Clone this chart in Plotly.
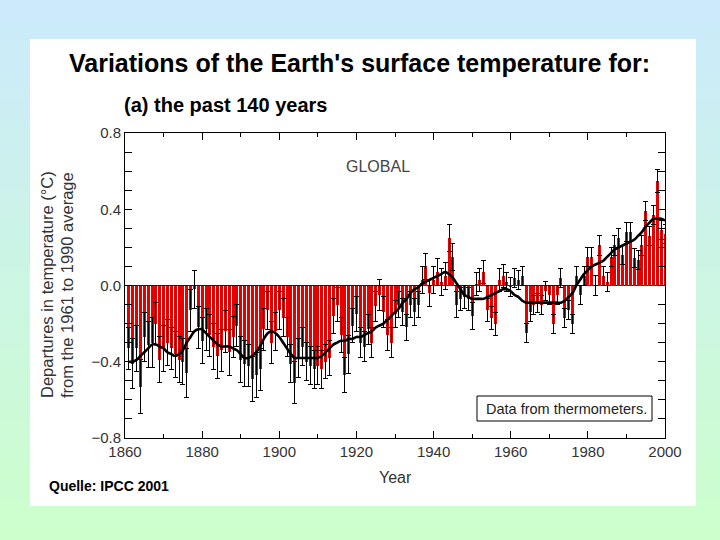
import plotly.graph_objects as go

years = list(range(1861, 2001))

anomaly = [
    -0.33, -0.41, -0.33, -0.53, -0.27, -0.31, -0.30, -0.20, -0.39, -0.33,  # 1861-1870
    -0.30, -0.33, -0.36, -0.39, -0.40, -0.46, -0.13, -0.02, -0.22, -0.29,  # 1871-1880
    -0.23, -0.26, -0.32, -0.37, -0.34, -0.24, -0.35, -0.27, -0.21, -0.39,  # 1881-1890
    -0.41, -0.42, -0.49, -0.47, -0.44, -0.23, -0.13, -0.30, -0.24, -0.13,  # 1891-1900
    -0.17, -0.27, -0.41, -0.51, -0.38, -0.32, -0.40, -0.42, -0.44, -0.42,  # 1901-1910
    -0.44, -0.40, -0.38, -0.16, -0.10, -0.26, -0.47, -0.36, -0.21, -0.15,  # 1911-1920
    -0.30, -0.32, -0.23, -0.30, -0.11, -0.05, -0.14, -0.26, -0.30, -0.15,  # 1921-1930
    -0.10, -0.14, -0.22, -0.10, -0.14, -0.10, 0.03, 0.10, -0.04, 0.03,     # 1931-1940
    0.07, 0.02, 0.05, 0.25, 0.15, -0.10, -0.07, -0.06, -0.07, -0.16,       # 1941-1950
    0.01, 0.03, 0.07, -0.13, -0.17, -0.20, 0.03, 0.05, 0.02, -0.01,        # 1951-1960
    0.04, 0.03, 0.05, -0.25, -0.14, -0.10, -0.09, -0.10, -0.03, -0.05,     # 1961-1970
    -0.20, -0.05, 0.04, -0.17, -0.13, -0.20, 0.05, -0.05, 0.05, 0.15,      # 1971-1980
    0.15, 0.00, 0.21, 0.05, 0.02, 0.15, 0.21, 0.25, 0.16, 0.28,            # 1981-1990
    0.28, 0.145, 0.135, 0.21, 0.39, 0.26, 0.37, 0.55, 0.29, 0.27,          # 1991-2000
]

uncertainty = [
    0.11, 0.13, 0.12, 0.14, 0.13, 0.12, 0.13, 0.11, 0.12, 0.12,
    0.12, 0.11, 0.12, 0.12, 0.12, 0.13, 0.11, 0.10, 0.11, 0.12,
    0.11, 0.11, 0.12, 0.12, 0.11, 0.11, 0.12, 0.11, 0.11, 0.12,
    0.12, 0.11, 0.12, 0.12, 0.11, 0.11, 0.10, 0.11, 0.10, 0.10,
    0.10, 0.10, 0.10, 0.11, 0.10, 0.10, 0.10, 0.10, 0.10, 0.10,
    0.10, 0.09, 0.09, 0.09, 0.09, 0.09, 0.09, 0.10, 0.09, 0.09,
    0.08, 0.08, 0.08, 0.08, 0.08, 0.08, 0.08, 0.08, 0.08, 0.07,
    0.07, 0.07, 0.07, 0.07, 0.07, 0.07, 0.07, 0.07, 0.07, 0.07,
    0.07, 0.07, 0.07, 0.07, 0.07, 0.07, 0.06, 0.06, 0.06, 0.07,
    0.06, 0.06, 0.06, 0.06, 0.06, 0.06, 0.06, 0.06, 0.05, 0.05,
    0.05, 0.05, 0.05, 0.05, 0.05, 0.05, 0.05, 0.05, 0.05, 0.05,
    0.05, 0.05, 0.05, 0.05, 0.05, 0.05, 0.05, 0.05, 0.05, 0.05,
    0.05, 0.05, 0.05, 0.05, 0.05, 0.05, 0.05, 0.05, 0.05, 0.05,
    0.05, 0.05, 0.05, 0.05, 0.05, 0.05, 0.05, 0.06, 0.05, 0.05,
]

smoothed = [
    -0.40, -0.40, -0.39, -0.37, -0.35, -0.33, -0.31, -0.31, -0.32, -0.33,
    -0.35, -0.36, -0.37, -0.36, -0.34, -0.30, -0.27, -0.24, -0.23, -0.23,
    -0.25, -0.27, -0.29, -0.31, -0.32, -0.32, -0.32, -0.33, -0.34, -0.36,
    -0.38, -0.38, -0.37, -0.35, -0.32, -0.28, -0.25, -0.24, -0.25, -0.27,
    -0.30, -0.33, -0.36, -0.38, -0.38, -0.38, -0.38, -0.38, -0.38, -0.38,
    -0.37, -0.35, -0.33, -0.31, -0.30, -0.29, -0.29, -0.28, -0.28, -0.27,
    -0.27, -0.26, -0.25, -0.24, -0.22, -0.21, -0.20, -0.18, -0.16, -0.14,
    -0.12, -0.09, -0.07, -0.04, -0.02, -0.01, 0.01, 0.02, 0.03, 0.04,
    0.05, 0.06, 0.07, 0.06, 0.04, 0.01, -0.02, -0.05, -0.06, -0.07,
    -0.07, -0.07, -0.07, -0.06, -0.05, -0.04, -0.03, -0.02, -0.02, -0.03,
    -0.05, -0.06, -0.08, -0.09, -0.09, -0.09, -0.09, -0.09, -0.09, -0.09,
    -0.09, -0.09, -0.09, -0.08, -0.06, -0.04, 0.00, 0.03, 0.06, 0.08,
    0.10, 0.11, 0.12, 0.13, 0.15, 0.17, 0.19, 0.20, 0.21, 0.22,
    0.23, 0.24, 0.26, 0.28, 0.31, 0.33, 0.35, 0.35, 0.35, 0.34,
]

x_ticks = [1860, 1880, 1900, 1920, 1940, 1960, 1980, 2000]
y_ticks = [-0.8, -0.4, 0.0, 0.4, 0.8]
y_labels = ["\u22120.8", "\u22120.4", "0.0", "0.4", "0.8"]

W, H = 720, 540
ML, MR, MT, MB = 125, 55, 133, 102
PW, PH = W - ML - MR, H - MT - MB


def px(x):
    return (x - ML) / PW


def py(y):
    return (H - MB - y) / PH


fig = go.Figure()

fig.add_trace(go.Bar(
    x=years, y=anomaly, width=0.78,
    marker=dict(color="#e60000", line=dict(width=0)),
    error_y=dict(type="data", array=uncertainty, color="black", thickness=1, width=2.5),
    showlegend=False,
))
fig.add_trace(go.Scatter(
    x=years, y=smoothed, mode="lines",
    line=dict(color="black", width=2.6, shape="spline"),
    showlegend=False,
))

# background gradient (light blue -> light green) and white panel
shapes = []
nb = 54
top = (204, 234, 252)
bot = (204, 255, 204)
for i in range(nb):
    t = i / (nb - 1)
    c = tuple(int(round(top[k] + (bot[k] - top[k]) * t)) for k in range(3))
    y0 = i * H / nb
    y1 = (i + 1) * H / nb + 0.6
    shapes.append(dict(type="rect", xref="paper", yref="paper",
                       x0=px(0), x1=px(W), y0=py(y1), y1=py(y0),
                       fillcolor="rgb(%d,%d,%d)" % c, line=dict(width=0), layer="below"))
shapes.append(dict(type="rect", xref="paper", yref="paper",
                   x0=px(30), x1=px(696), y0=py(506), y1=py(39),
                   fillcolor="white", line=dict(width=0), layer="below"))
# legend-like box
shapes.append(dict(type="rect", xref="paper", yref="paper",
                   x0=px(477), x1=px(652), y0=py(421), y1=py(396),
                   fillcolor="white", line=dict(color="black", width=1), layer="above"))

font = "Liberation Sans, Arial, Helvetica, sans-serif"
annotations = [
    dict(text="<b>Variations of the Earth's surface temperature for:</b>",
         x=px(359), y=py(63), xref="paper", yref="paper", showarrow=False,
         font=dict(size=25, color="black", family=font), xanchor="center", yanchor="middle"),
    dict(text="<b>(a) the past 140 years</b>",
         x=px(122), y=py(105), xref="paper", yref="paper", showarrow=False,
         font=dict(size=20, color="black", family=font), xanchor="left", yanchor="middle"),
    dict(text="GLOBAL", x=px(378), y=py(166), xref="paper", yref="paper", showarrow=False,
         font=dict(size=16, color="#444444", family=font), xanchor="center", yanchor="middle"),
    dict(text="Data from thermometers.", x=px(566), y=py(409), xref="paper", yref="paper",
         showarrow=False, font=dict(size=14.5, color="#222222", family=font),
         xanchor="center", yanchor="middle"),
    dict(text="Departures in temperature (\u00b0C)", x=px(47), y=py(285), xref="paper",
         yref="paper", showarrow=False, textangle=-90,
         font=dict(size=16.5, color="#333333", family=font), xanchor="center", yanchor="middle"),
    dict(text="from the 1961 to 1990 average", x=px(67), y=py(285), xref="paper",
         yref="paper", showarrow=False, textangle=-90,
         font=dict(size=16.5, color="#333333", family=font), xanchor="center", yanchor="middle"),
    dict(text="Year", x=px(395), y=py(477), xref="paper", yref="paper", showarrow=False,
         font=dict(size=16, color="#333333", family=font), xanchor="center", yanchor="middle"),
    dict(text="<b>Quelle: IPCC 2001</b>", x=px(47), y=py(486), xref="paper", yref="paper",
         showarrow=False, font=dict(size=14, color="black", family=font),
         xanchor="left", yanchor="middle"),
]

fig.update_layout(
    width=W, height=H,
    margin=dict(l=ML, r=MR, t=MT, b=MB),
    paper_bgcolor="rgb(204,244,230)",
    plot_bgcolor="white",
    shapes=shapes,
    annotations=annotations,
    bargap=0,
    font=dict(family=font, size=14, color="#333333"),
    xaxis=dict(
        range=[1860, 2000], tickvals=x_ticks, ticktext=[str(v) for v in x_ticks],
        ticks="inside", ticklen=7, tickcolor="black", showline=True, linecolor="black",
        linewidth=1, mirror="ticks", showgrid=False, zeroline=False,
        minor=dict(dtick=10, tick0=1860, ticks="inside", ticklen=4, tickcolor="black"),
        tickfont=dict(size=15, color="#333333"),
    ),
    yaxis=dict(
        range=[-0.8, 0.8], tickvals=y_ticks, ticktext=y_labels,
        ticks="inside", ticklen=7, tickcolor="black", showline=True, linecolor="black",
        linewidth=1, mirror="ticks", showgrid=False,
        zeroline=True, zerolinecolor="#550000", zerolinewidth=1.2,
        minor=dict(dtick=0.1, tick0=0, ticks="inside", ticklen=7, tickcolor="black"),
        tickfont=dict(size=15, color="#333333"),
    ),
)

fig.write_html("out.html", config={"displayModeBar": False},
               post_script="document.body.style.margin='0';")
